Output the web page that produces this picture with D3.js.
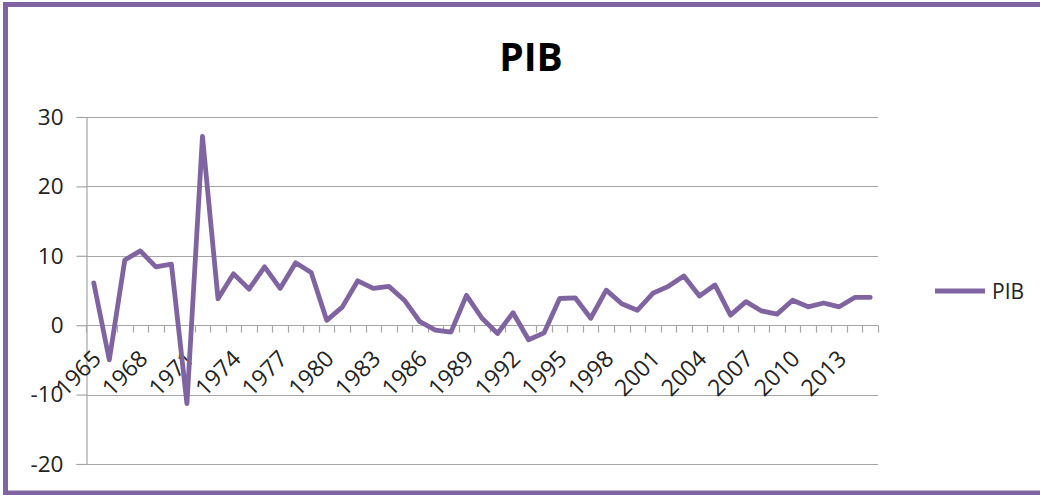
<!DOCTYPE html>
<html>
<head>
<meta charset="utf-8">
<script src="https://cdn.jsdelivr.net/npm/d3@7"></script>
<style>
  html, body { margin: 0; padding: 0; background: #fff; }
  svg { display: block; }
</style>
</head>
<body>
<svg id="chart" width="1040" height="495"></svg>
<script>
const years = d3.range(1965, 2016).map(String);
const pib = [6.1, -5.0, 9.4, 10.7, 8.4, 8.8, -11.3, 27.2, 3.8, 7.4,
             5.2, 8.4, 5.3, 9.0, 7.6, 0.7, 2.6, 6.4, 5.3, 5.6,
             3.6, 0.5, -0.7, -1.0, 4.3, 1.0, -1.2, 1.8, -2.1, -1.1,
             3.85, 3.95, 1.0, 5.05, 3.1, 2.15, 4.6, 5.6, 7.1, 4.2,
             5.8, 1.45, 3.4, 2.05, 1.6, 3.6, 2.65, 3.2, 2.65, 4.0, 4.0];
const yTicks = [-20, -10, 0, 10, 20, 30];
const xLabels = ["1965","1968","1971","1974","1977","1980","1983","1986","1989","1992",
                 "1995","1998","2001","2004","2007","2010","2013"];
const seriesName = "PIB";
const title = "PIB";

const purple = "#8064A2";
const svg = d3.select("#chart");

// outer border
svg.append("rect").attr("x", 5.5).attr("y", 4.5).attr("width", 1060).attr("height", 488.5)
  .attr("fill", "none").attr("stroke", purple).attr("stroke-width", 5);

const L = 86, R = 878, T = 117, B = 464;
const x = d3.scaleBand().domain(years).range([L, R]).padding(0);
const y = d3.scaleLinear().domain([-20, 30]).range([B, T]);
const cx = d => x(d) + x.bandwidth() / 2;

// title
svg.append("text").attr("x", 531).attr("y", 71).attr("text-anchor", "middle")
  .attr("font-family", "Open Sans").attr("font-weight", "bold").attr("font-size", 39)
  .attr("fill", "#000").text(title);

// gridlines
svg.append("g").selectAll("line").data(yTicks.filter(v => v !== 0)).join("line")
  .attr("x1", L).attr("x2", R).attr("y1", d => Math.round(y(d)) + 0.5).attr("y2", d => Math.round(y(d)) + 0.5)
  .attr("stroke", "#A6A6A6").attr("stroke-width", 1.2);

// y axis
const yAxis = d3.axisLeft(y).tickValues(yTicks).tickSize(10).tickPadding(13).tickFormat(d => String(d));
const gy = svg.append("g").attr("transform", `translate(${L + 0.5},0)`).call(yAxis);
gy.select(".domain").attr("stroke", "#A6A6A6").attr("stroke-width", 1.2);
gy.selectAll(".tick line").attr("stroke", "#A6A6A6").attr("stroke-width", 1.2);
gy.selectAll(".tick text").attr("font-family", "Open Sans").attr("font-size", 22.5).attr("fill", "#222");

// x axis at zero
const y0 = Math.round(y(0)) + 0.5;
svg.append("line").attr("x1", L).attr("x2", R).attr("y1", y0).attr("y2", y0)
  .attr("stroke", "#A6A6A6").attr("stroke-width", 1.2);
const bounds = years.map(d => x(d)).concat([R]);
svg.append("g").selectAll("line").data(bounds).join("line")
  .attr("x1", d => Math.round(d) + 0.5).attr("x2", d => Math.round(d) + 0.5)
  .attr("y1", y0).attr("y2", y0 + 7)
  .attr("stroke", "#A6A6A6").attr("stroke-width", 1.2);

// x labels
svg.append("g").selectAll("text").data(xLabels).join("text")
  .attr("transform", d => `translate(${cx(d) + 3},${y0 + 29}) rotate(-45)`)
  .attr("text-anchor", "end").attr("dy", "0.35em")
  .attr("font-family", "Open Sans").attr("font-size", 23).attr("fill", "#222")
  .text(d => d);

// line
const line = d3.line().x((d, i) => cx(years[i])).y(d => y(d));
svg.append("path").datum(pib).attr("d", line)
  .attr("fill", "none").attr("stroke", purple).attr("stroke-width", 4.8)
  .attr("stroke-linejoin", "round").attr("stroke-linecap", "round");

// legend
svg.append("line").attr("x1", 935).attr("x2", 985).attr("y1", 291).attr("y2", 291)
  .attr("stroke", purple).attr("stroke-width", 4.8);
svg.append("text").attr("x", 992).attr("y", 291).attr("dy", "0.36em")
  .attr("font-family", "Open Sans").attr("font-size", 21).attr("fill", "#222").text(seriesName);
</script>
</body>
</html>
